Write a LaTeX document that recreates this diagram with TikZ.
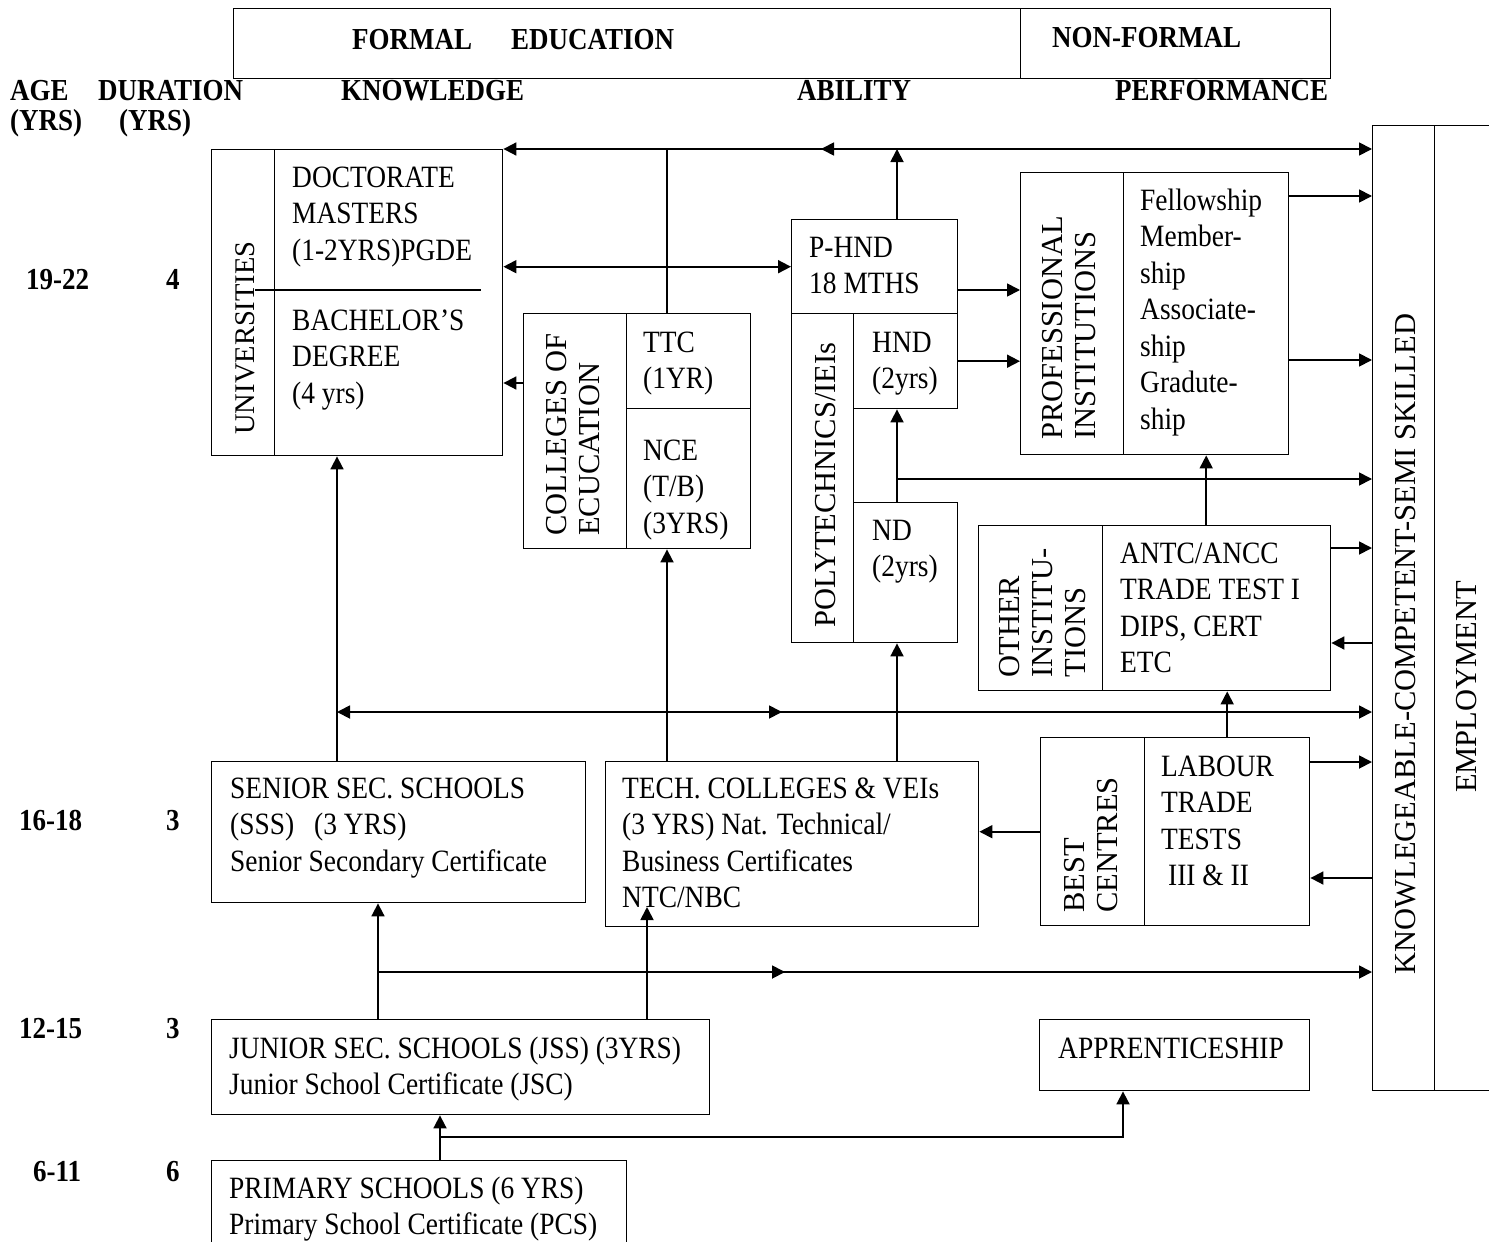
\documentclass[tikz,border=0pt]{standalone}
\usepackage{fontspec}
\setmainfont{Liberation Serif}
\newfontfamily\narrowfont[FakeStretch=0.885,Ligatures=TeX]{Liberation Serif}
\usetikzlibrary{arrows.meta,positioning}

\begin{document}
\begin{tikzpicture}[x=1pt, y=-1pt, >={Triangle[length=13pt,width=13pt]},
  cell/.style={draw, line width=1.4pt, inner sep=0pt, anchor=north west},
  txt/.style={anchor=north west, align=left, inner sep=0pt, font=\narrowfont\fontsize{31}{36.5}\selectfont},
  hdr/.style={anchor=base west, inner sep=0pt, font=\narrowfont\fontsize{30.5}{34}\selectfont\bfseries},
  vtxt/.style={rotate=90, align=left, inner sep=0pt, font=\fontsize{30.5}{33}\selectfont},
  link/.style={line width=1.8pt}]
  \useasboundingbox (0,0) rectangle (1489,1242);
  \clip (0,0) rectangle (1489,1242);

  % Tieu de
  \node[cell, minimum width=787pt, minimum height=70pt] (formal) at (233,8) {};
  \node[cell, minimum width=310pt, minimum height=70pt] (nonformal) at (1020,8) {};
  \node[hdr] (formaltxt) at (352,49) {FORMAL\hspace{39pt}EDUCATION};
  \node[hdr] (nonformaltxt) at (1052,47) {NON-FORMAL};
  \node[hdr] (age) at (10,100) {AGE};
  \node[hdr] (dur) at (98,100) {DURATION};
  \node[hdr] (knowhdr) at (341,100) {KNOWLEDGE};
  \node[hdr] (abil) at (797,100) {ABILITY};
  \node[hdr] (perf) at (1115,100) {PERFORMANCE};
  \node[hdr] (ageyrs) at (10,130) {(YRS)};
  \node[hdr] (duryrs) at (119,130) {(YRS)};

  % Tuoi va so nam
  \node[hdr] (a1) at (26,289) {19-22}; \node[hdr] (d1) at (166,289) {4};
  \node[hdr] (a2) at (19,830) {16-18}; \node[hdr] (d2) at (166,830) {3};
  \node[hdr] (a3) at (19,1038) {12-15}; \node[hdr] (d3) at (166,1038) {3};
  \node[hdr] (a4) at (33,1181) {6-11}; \node[hdr] (d4) at (166,1181) {6};

  % Cac o
  \node[cell, minimum width=63pt, minimum height=306pt] (univlab) at (211,149) {};
  \node[cell, minimum width=228pt, minimum height=306pt] (univ) at (274,149) {};
  \draw[line width=1.4pt] (255,290) -- (481,290);
  \node[cell, minimum width=103pt, minimum height=235pt] (colllab) at (523,313) {};
  \node[cell, minimum width=124pt, minimum height=95pt] (ttc) at (626,313) {};
  \node[cell, minimum width=124pt, minimum height=140pt] (nce) at (626,408) {};
  \node[cell, minimum width=166pt, minimum height=94pt] (phnd) at (791,219) {};
  \node[cell, minimum width=62pt, minimum height=329pt] (polylab) at (791,313) {};
  \node[cell, minimum width=104pt, minimum height=95pt] (hnd) at (853,313) {};
  \node[cell, minimum width=104pt, minimum height=140pt] (nd) at (853,502) {};
  \node[cell, minimum width=103pt, minimum height=282pt] (proflab) at (1020,172) {};
  \node[cell, minimum width=165pt, minimum height=282pt] (prof) at (1123,172) {};
  \node[cell, minimum width=124pt, minimum height=165pt] (othlab) at (978,525) {};
  \node[cell, minimum width=228pt, minimum height=165pt] (other) at (1102,525) {};
  \node[cell, minimum width=104pt, minimum height=188pt] (bestlab) at (1040,737) {};
  \node[cell, minimum width=165pt, minimum height=188pt] (best) at (1144,737) {};
  \node[cell, minimum width=374pt, minimum height=141pt] (sss) at (211,761) {};
  \node[cell, minimum width=373pt, minimum height=165pt] (tech) at (605,761) {};
  \node[cell, minimum width=498pt, minimum height=95pt] (jss) at (211,1019) {};
  \node[cell, minimum width=270pt, minimum height=71pt] (appr) at (1039,1019) {};
  \node[cell, minimum width=415pt, minimum height=110pt] (prim) at (211,1160) {};
  \node[cell, minimum width=62pt, minimum height=965pt] (know) at (1372,125) {};
  \node[cell, minimum width=80pt, minimum height=965pt] (emp) at (1434,125) {};

  % Chu trong cac o
  \node[txt] (univtop) at (292,161.5) {\strut DOCTORATE\\MASTERS\\(1-2YRS)PGDE};
  \node[txt] (univbot) at (292,304.5) {\strut BACHELOR’S\\DEGREE\\(4 yrs)};
  \node[txt] (ttctxt) at (643,326.5) {\strut TTC\\(1YR)};
  \node[txt] (ncetxt) at (643,434.5) {\strut NCE\\(T/B)\\(3YRS)};
  \node[txt] (phndtxt) at (809,231.5) {\strut P-HND\\18 MTHS};
  \node[txt] (hndtxt) at (872,326.5) {\strut HND\\(2yrs)};
  \node[txt] (ndtxt) at (872,514.5) {\strut ND\\(2yrs)};
  \node[txt] (proftxt) at (1140,184.5) {\strut Fellowship\\Member-\\ship\\Associate-\\ship\\Gradute-\\ship};
  \node[txt] (othtxt) at (1120,537.5) {\strut ANTC/ANCC\\TRADE TEST I\\DIPS, CERT\\ETC};
  \node[txt] (besttxt) at (1161,750.5) {\strut LABOUR\\TRADE\\TESTS\\\hspace*{7pt}III \& II};
  \node[txt] (ssstxt) at (230,772.5) {\strut SENIOR SEC. SCHOOLS\\(SSS)\hspace{20pt}(3 YRS)\\Senior Secondary Certificate};
  \node[txt] (techtxt) at (622,772.5) {\strut TECH. COLLEGES \& VEIs\\(3 YRS) Nat. Technical/\\Business Certificates\\NTC/NBC};
  \node[txt] (jsstxt) at (229,1032.5) {\strut JUNIOR SEC. SCHOOLS (JSS) (3YRS)\\Junior School Certificate (JSC)};
  \node[txt] (apprtxt) at (1058,1032.5) {\strut APPRENTICESHIP};
  \node[txt] (primtxt) at (229,1172.5) {\strut PRIMARY SCHOOLS (6 YRS)\\Primary School Certificate (PCS)};

  % Chu xoay
  \node[vtxt, font=\fontsize{28.5}{33}\selectfont] (univlabtxt) at (245,338) {UNIVERSITIES};
  \node[vtxt] (colltxt) at (573,434.5) {COLLEGES OF\\ECUCATION};
  \node[vtxt] (polytxt) at (826,485) {POLYTECHNICS/IEIs};
  \node[vtxt] (proflabtxt) at (1069,328) {PROFESSIONAL\\INSTITUTIONS};
  \node[vtxt] (othlabtxt) at (1043,613) {OTHER\\INSTITU-\\TIONS};
  \node[vtxt] (bestlabtxt) at (1091,845) {BEST\\CENTRES};
  \node[vtxt] (knowtxt) at (1406,644) {KNOWLEGEABLE-COMPETENT-SEMI SKILLED};
  \node[vtxt] (emptxt) at (1467,687) {EMPLOYMENT};

  \coordinate (sssx) at (337,0);
  \coordinate (colx) at (667,0);
  \coordinate (polx) at (897,0);
  \coordinate (jx1) at (378,0);
  \coordinate (jx2) at (647,0);
  \coordinate (px) at (440,0);
  \coordinate (ax) at (1123,0);
  \coordinate (techin) at (647,907);

  % Mui ten phan tren
  \draw[link,->] (colx |- ttc.north) |- (univ.north east);
  \draw[link,->] (polx |- phnd.north) -- (polx |- univ.north);
  \draw[link,->] (polx |- univ.north) -- ++(-76,0);
  \draw[link] (polx |- univ.north) -- (colx |- univ.north);
  \draw[link,->] (polx |- univ.north) -- (know.west |- univ.north);
  \draw[link,<->] (univ.east |- phnd.west) -- (phnd.west);
  \draw[link,->] (colllab.west |- 0,383) -- (univ.east |- 0,383);
  \draw[link,->] (phnd.east |- 0,290) -- (proflab.west |- 0,290);
  \draw[link,->] (hnd.east) -- (hnd.east -| proflab.west);
  \draw[link,->] (prof.east |- 0,196) -- (know.west |- 0,196);
  \draw[link,->] (prof.east |- 0,360) -- (know.west |- 0,360);
  \draw[link,->] (polx |- nd.north) -- (polx |- hnd.south);
  \draw[link,->] (polx |- 0,479) -- (know.west |- 0,479);
  \draw[link,->] (prof.south |- other.north) -- (prof.south);
  \draw[link,->] (other.east |- 0,548) -- (know.west |- 0,548);
  \draw[link,<-] (other.east |- 0,643) -- (know.west |- 0,643);

  % Mui ten phan giua
  \draw[link,->] (sssx |- sss.north) -- (sssx |- univ.south);
  \draw[link,->] (colx |- tech.north) -- (colx |- nce.south);
  \draw[link,->] (polx |- tech.north) -- (polx |- nd.south);
  \draw[link,->] (colx |- 0,712) -- (sssx |- 0,712);
  \draw[link,->] (colx |- 0,712) -- ++(115,0);
  \draw[link,->] (colx |- 0,712) -- (know.west |- 0,712);
  \draw[link,->] (best.north) -- (best.north |- other.south);
  \draw[link,->] (bestlab.west) -- (bestlab.west -| tech.east);
  \draw[link,->] (best.east |- 0,762) -- (know.west |- 0,762);
  \draw[link,<-] (best.east |- 0,878) -- (know.west |- 0,878);

  % Mui ten phan duoi
  \draw[link,->] (jx1 |- jss.north) -- (jx1 |- sss.south);
  \draw[link,->] (jx2 |- jss.north) -- (techin);
  \draw[link,->] (jx1 |- 0,972) -- ++(407,0);
  \draw[link,->] (jx1 |- 0,972) -- (know.west |- 0,972);
  \draw[link,->] (px |- prim.north) -- (px |- jss.south);
  \draw[link,->] (px |- 0,1137) -| (ax |- appr.south);
\end{tikzpicture}
\end{document}
